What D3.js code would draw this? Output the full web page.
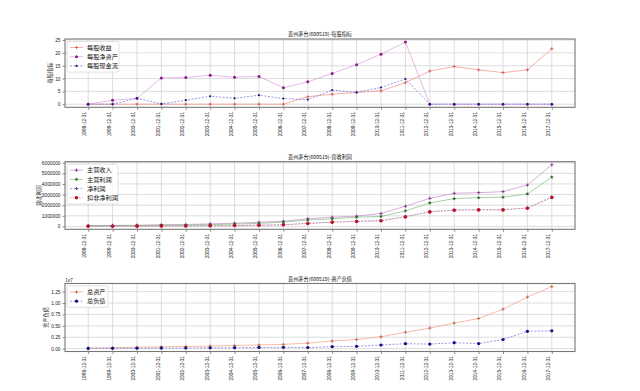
<!DOCTYPE html>
<html><head><meta charset="utf-8">
<script src="https://cdn.jsdelivr.net/npm/d3@7"></script>
<style>body{margin:0;background:#fff;}svg{display:block;font-family:"Noto Sans CJK SC","DejaVu Sans",sans-serif;}</style>
</head><body>
<svg id="c" width="640" height="391"></svg>
<script>
const dates = ["1998-12-31","1999-12-31","2000-12-31","2001-12-31","2002-12-31","2003-12-31","2004-12-31","2005-12-31","2006-12-31","2007-12-31","2008-12-31","2009-12-31","2010-12-31","2011-12-31","2012-12-31","2013-12-31","2014-12-31","2015-12-31","2016-12-31","2017-12-31"];
// 每股指标
const eps  = [0,0,0,0,0,0,0,0,0,2.9,3.9,4.6,5.2,8.4,12.9,14.7,13.4,12.3,13.4,21.6];
const bvps = [0,1.56,2.3,10.2,10.4,11.3,10.5,10.8,6.4,8.7,12.0,15.4,19.5,24.2,0,0,0,0,0,0];
const cfps = [0,0,2.3,0.1,1.56,3.1,2.3,3.5,2.2,1.8,5.5,4.6,6.5,9.8,0,0,0,0,0,0];
// 营收利润
const revenue   = [80000,100000,111000,162000,183000,240000,301000,393000,490000,724000,870000,970000,1220000,1900000,2650000,3120000,3180000,3280000,3900000,5810000];
const opProfit  = [60000,70000,80000,110000,130000,170000,220000,290000,400000,600000,710000,870000,940000,1470000,2210000,2620000,2720000,2750000,3060000,4650000];
const netProfit = [21000,23000,28000,34000,40000,60000,83000,113000,155000,290000,410000,480000,550000,920000,1400000,1550000,1580000,1580000,1750000,2790000];
const deducted  = [20000,22000,27000,33000,38000,59000,82000,112000,154000,283000,400000,470000,530000,900000,1370000,1530000,1560000,1560000,1720000,2720000];
// 资产负债
const assets      = [1500000,2000000,3000000,4000000,4700000,5600000,6800000,8100000,9400000,12000000,16700000,20000000,26000000,36000000,45000000,56000000,66000000,86600000,113000000,136000000].map(v=>v/10);
const liabilities = [500000,700000,1000000,1200000,1400000,1700000,2000000,2600000,2900000,2500000,4300000,5000000,8000000,10800000,10000000,13000000,11000000,20000000,38000000,39000000].map(v=>v/10);

const titles = ["贵州茅台(600519)-每股指标","贵州茅台(600519)-营收利润","贵州茅台(600519)-资产负债"];
const ylabels = ["每股指标","营收利润","资产负债"];

const svg = d3.select("#c");
const L = 65, R = 575;

function marker(g, type, x, y, color, size){
  if(type==="plus"){
    g.append("path").attr("d",`M${x-size},${y}H${x+size}M${x},${y-size}V${y+size}`).attr("stroke",color).attr("stroke-width",0.8);
  } else if(type==="star"){
    g.append("path").attr("d",d3.symbol(d3.symbolStar, size*size*3)()).attr("transform",`translate(${x},${y})`).attr("fill",color);
  } else {
    g.append("circle").attr("cx",x).attr("cy",y).attr("r",size).attr("fill",color);
  }
}

function chart(cfg){
  const g = svg.append("g");
  const n = dates.length;
  const x = d3.scaleLinear().domain([-0.95*(n-1)/19, (n-1)+0.95*(n-1)/19]).range([L,R]);
  const all = cfg.series.flatMap(s=>s.values);
  const mn = d3.min(all), mx = d3.max(all), pad = (mx-mn)*0.05;
  const y = d3.scaleLinear().domain([mn-pad, mx+pad]).range([cfg.bottom, cfg.top]);
  // grid
  cfg.yticks.forEach(t=>{
    g.append("line").attr("x1",L).attr("x2",R).attr("y1",y(t)).attr("y2",y(t)).attr("stroke","#d4d4d4").attr("stroke-width",0.8);
  });
  dates.forEach((d,i)=>{
    g.append("line").attr("x1",x(i)).attr("x2",x(i)).attr("y1",cfg.top).attr("y2",cfg.bottom).attr("stroke","#d4d4d4").attr("stroke-width",0.8);
  });
  // axes
  const ya = d3.axisLeft(y).tickValues(cfg.yticks).tickFormat(cfg.fmt).tickSize(2.5).tickPadding(2);
  const yg = g.append("g").attr("transform",`translate(${L},0)`).call(ya);
  const xa = d3.axisBottom(x).tickValues(d3.range(n)).tickFormat(i=>dates[i]).tickSize(2.5).tickPadding(2);
  const xg = g.append("g").attr("transform",`translate(0,${cfg.bottom})`).call(xa);
  [yg,xg].forEach(a=>{a.select(".domain").remove(); a.selectAll("line").attr("stroke","#444").attr("stroke-width",0.6); a.selectAll("text").attr("font-size",4.8).attr("fill","#222");});
  xg.selectAll("text").attr("transform","rotate(-90)").attr("text-anchor","end").attr("dx","-4.5").attr("dy","-2.2").attr("x",0).attr("y",0);
  // lines
  cfg.series.forEach(s=>{
    const line = d3.line().x((d,i)=>x(i)).y(d=>y(d));
    g.append("path").attr("d",line(s.values)).attr("fill","none").attr("stroke",s.line).attr("stroke-width",0.7).attr("stroke-dasharray",s.dash||null);
    s.values.forEach((v,i)=>marker(g,s.marker,x(i),y(v),s.mcolor,s.msize));
  });
  // frame
  g.append("rect").attr("x",L).attr("y",cfg.top).attr("width",R-L).attr("height",cfg.bottom-cfg.top).attr("fill","none").attr("stroke","#777").attr("stroke-width",1.1);
  // title
  g.append("text").attr("x",(L+R)/2).attr("y",cfg.top-3).attr("text-anchor","middle").attr("font-size",5.2).attr("fill","#111").text(cfg.title);
  // y label
  g.append("text").attr("transform",`translate(${cfg.ylx},${(cfg.top+cfg.bottom)/2}) rotate(-90)`).attr("text-anchor","middle").attr("font-size",5.2).attr("fill","#222").text(cfg.ylabel);
  if(cfg.offset) g.append("text").attr("x",L).attr("y",cfg.top-2).attr("font-size",4.8).attr("fill","#222").text(cfg.offset);
  // legend
  const lg = g.append("g").attr("transform",`translate(${L+2},${cfg.top+2.5})`);
  const rowH = 9.2;
  const lw = cfg.legendW, lh = cfg.series.length*rowH+3;
  lg.append("rect").attr("width",lw).attr("height",lh).attr("rx",1.5).attr("fill","#fff").attr("fill-opacity",0.85).attr("stroke","#ccc").attr("stroke-width",0.6);
  cfg.series.forEach((s,i)=>{
    const yy = 6+i*rowH;
    lg.append("line").attr("x1",3).attr("x2",16).attr("y1",yy).attr("y2",yy).attr("stroke",s.line).attr("stroke-width",0.7).attr("stroke-dasharray",s.dash||null);
    marker(lg,s.marker,9.5,yy,s.mcolor,s.msize);
    lg.append("text").attr("x",20).attr("y",yy+2.2).attr("font-size",6.2).attr("fill","#111").text(s.name);
  });
}

chart({top:39, bottom:107.3, title:titles[0], ylabel:ylabels[0], ylx:52, legendW:52,
  yticks:[0,5,10,15,20,25], fmt:d=>d,
  series:[
    {name:"每股收益", values:eps, line:"#ef8f80", mcolor:"#d05050", marker:"plus", msize:1.6},
    {name:"每股净资产", values:bvps, line:"#d99be0", mcolor:"#8a1c8a", marker:"circle", msize:1.5},
    {name:"每股现金流", values:cfps, line:"#6b6bd8", mcolor:"#1a1a80", marker:"circle", msize:1.1, dash:"2,1.5"}
  ]});

chart({top:161.7, bottom:229.3, title:titles[1], ylabel:ylabels[1], ylx:41, legendW:51,
  yticks:[0,1000000,2000000,3000000,4000000,5000000,6000000], fmt:d=>String(d),
  series:[
    {name:"主营收入", values:revenue, line:"#c98acb", mcolor:"#7a2a7a", marker:"plus", msize:1.6},
    {name:"主营利润", values:opProfit, line:"#7cbf7c", mcolor:"#1f5f1f", marker:"star", msize:1.3},
    {name:"净利润", values:netProfit, line:"#8a8ab8", mcolor:"#3a3a70", marker:"plus", msize:1.6, dash:"2,1.5"},
    {name:"扣非净利润", values:deducted, line:"#e07a80", mcolor:"#c0102a", marker:"circle", msize:1.8, dash:"1.5,1.5"}
  ]});

chart({top:283.5, bottom:351.5, title:titles[2], ylabel:ylabels[2], ylx:48, legendW:41,
  yticks:[0,2500000,5000000,7500000,10000000,12500000], fmt:d=>(d/1e7).toFixed(2), offset:"1e7",
  series:[
    {name:"总资产", values:assets, line:"#f0a088", mcolor:"#c05a3a", marker:"plus", msize:1.6},
    {name:"总负债", values:liabilities, line:"#6b6bd8", mcolor:"#101080", marker:"circle", msize:1.6, dash:"2,1.5"}
  ]});
</script>
</body></html>
